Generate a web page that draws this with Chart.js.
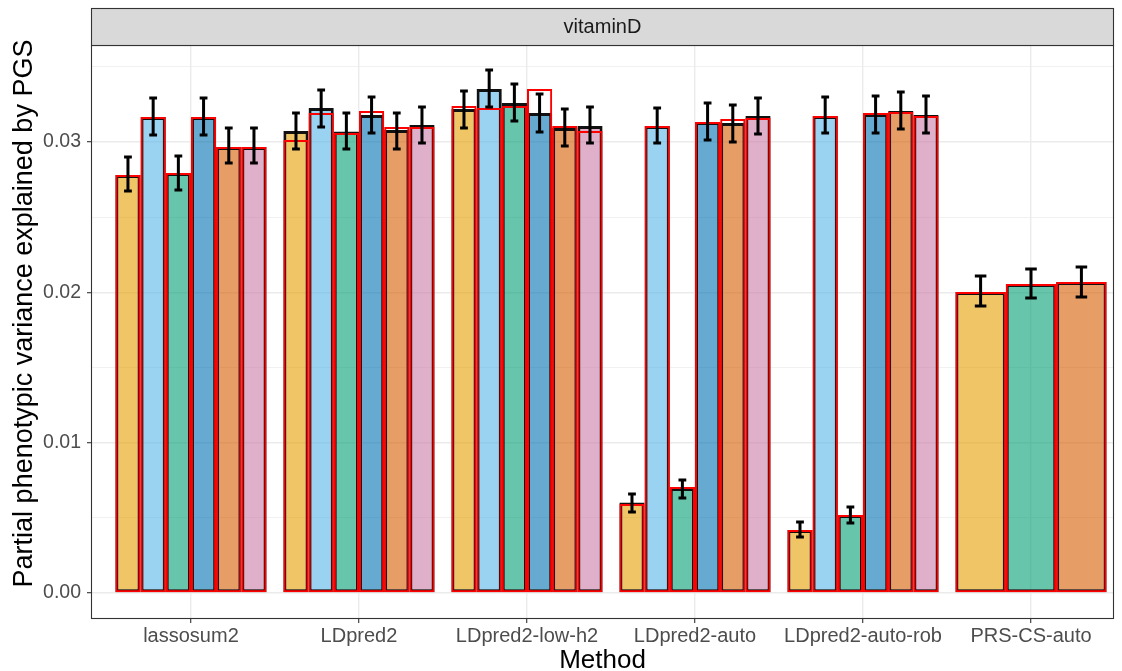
<!DOCTYPE html>
<html><head><meta charset="utf-8">
<script src="https://cdn.jsdelivr.net/npm/chart.js@4.4.1/dist/chart.umd.min.js"></script>
<style>html,body{margin:0;padding:0;background:#fff}#wrap{width:1122px;height:671px;position:relative}</style>
</head><body><div id="wrap"><canvas id="c" width="1122" height="671"></canvas></div>
<script>
// ---- data ----
const methods = ['lassosum2','LDpred2','LDpred2-low-h2','LDpred2-auto','LDpred2-auto-rob','PRS-CS-auto'];
const stripLabel = 'vitaminD';
const xTitle = 'Method';
const yTitle = 'Partial phenotypic variance explained by PGS';
const seriesColors = ['rgba(230,159,0,0.6)','rgba(86,180,233,0.6)','rgba(0,158,115,0.6)','rgba(0,114,178,0.6)','rgba(213,94,0,0.6)','rgba(204,121,167,0.6)'];

// values of the filled (black outlined) bars, one array per series
const fill1 = [0.02781, 0.03074, 0.03220, 0.00602, 0.00419, 0.02003];
const fill2 = [0.03167, 0.03227, 0.03353, 0.03107, 0.03174, null];
const fill3 = [0.02794, 0.03070, 0.03260, 0.00699, 0.00519, 0.02056];
const fill4 = [0.03167, 0.03180, 0.03194, 0.03134, 0.03187, null];
const fill5 = [0.02967, 0.03080, 0.03094, 0.03127, 0.03207, 0.02069];
const fill6 = [0.02967, 0.03114, 0.03107, 0.03174, 0.03180, null];

// values of the red outlined bars
const red1 = [0.02781, 0.03014, 0.03240, 0.00592, 0.00419, 0.02003];
const red2 = [0.03167, 0.03194, 0.03227, 0.03107, 0.03174, null];
const red3 = [0.02794, 0.03060, 0.03240, 0.00705, 0.00519, 0.02056];
const red4 = [0.03167, 0.03207, 0.03353, 0.03134, 0.03194, null];
const red5 = [0.02967, 0.03100, 0.03107, 0.03154, 0.03200, 0.02069];
const red6 = [0.02967, 0.03100, 0.03074, 0.03160, 0.03174, null];

// error bar bounds
const lo1 = [0.02675, 0.02954, 0.03094, 0.00539, 0.00373, 0.01910];
const hi1 = [0.02901, 0.03194, 0.03340, 0.00659, 0.00472, 0.02109];
const lo2 = [0.03047, 0.03100, 0.03234, 0.02994, 0.03060, null];
const hi2 = [0.03293, 0.03347, 0.03480, 0.03227, 0.03300, null];
const lo3 = [0.02681, 0.02954, 0.03140, 0.00632, 0.00466, 0.01963];
const hi3 = [0.02907, 0.03194, 0.03387, 0.00752, 0.00572, 0.02156];
const lo4 = [0.03047, 0.03060, 0.03067, 0.03014, 0.03060, null];
const hi4 = [0.03293, 0.03300, 0.03320, 0.03260, 0.03307, null];
const lo5 = [0.02861, 0.02954, 0.02974, 0.03001, 0.03087, 0.01969];
const hi5 = [0.03094, 0.03194, 0.03220, 0.03247, 0.03333, 0.02169];
const lo6 = [0.02861, 0.02994, 0.02994, 0.03054, 0.03060, null];
const hi6 = [0.03094, 0.03234, 0.03234, 0.03293, 0.03307, null];

const yTickValues = [0, 0.005, 0.01, 0.015, 0.02, 0.025, 0.03, 0.035];
const yTickLabels = ['0.00', '', '0.01', '', '0.02', '', '0.03', ''];

// ---- build ----
const fills = [fill1, fill2, fill3, fill4, fill5, fill6];
const reds = [red1, red2, red3, red4, red5, red6];
const los = [lo1, lo2, lo3, lo4, lo5, lo6];
const his = [hi1, hi2, hi3, hi4, hi5, hi6];
const toPts = arr => arr.map((v, i) => ({x: i, y: v}));
const FONT = "'Liberation Sans', Arial, sans-serif";

const datasets = [];
reds.forEach((arr, k) => datasets.push({
  data: toPts(arr), stack: 's' + k, order: 0,
  backgroundColor: 'rgba(0,0,0,0)', borderColor: '#FF0000', borderWidth: 2,
  borderSkipped: false, skipNull: true, categoryPercentage: 0.9, barPercentage: 1
}));
fills.forEach((arr, k) => datasets.push({
  data: toPts(arr), stack: 's' + k, order: 1,
  backgroundColor: seriesColors[k], borderColor: '#111', borderWidth: 3,
  borderSkipped: false, skipNull: true, categoryPercentage: 0.9, barPercentage: 1,
  errLo: los[k], errHi: his[k]
}));

const isMajor = v => yTickValues.indexOf(v) % 2 === 0;

const panelPlugin = {
  id: 'panel',
  beforeDraw(chart) {
    const c = chart.ctx; c.save(); c.fillStyle = '#fff'; c.fillRect(0, 0, chart.width, chart.height); c.restore();
  },
  afterDatasetsDraw(chart) {
    const c = chart.ctx, ys = chart.scales.y;
    c.save();
    c.strokeStyle = '#000'; c.lineWidth = 3; c.lineCap = 'butt';
    chart.data.datasets.forEach((ds, di) => {
      if (!ds.errLo) return;
      const meta = chart.getDatasetMeta(di);
      meta.data.forEach((el, i) => {
        const lo = ds.errLo[i], hi = ds.errHi[i];
        if (lo == null || hi == null) return;
        const x = el.x, cap = 4 + 0.15 * el.width;
        const yl = ys.getPixelForValue(lo), yh = ys.getPixelForValue(hi);
        c.beginPath();
        c.moveTo(x, yl); c.lineTo(x, yh);
        c.moveTo(x - cap / 2, yl); c.lineTo(x + cap / 2, yl);
        c.moveTo(x - cap / 2, yh); c.lineTo(x + cap / 2, yh);
        c.stroke();
      });
    });
    c.restore();
  },
  afterDraw(chart) {
    const c = chart.ctx, a = chart.chartArea;
    c.save();
    c.strokeStyle = '#333'; c.lineWidth = 1.1;
    c.strokeRect(a.left + 0.5, a.top + 0.5, a.right - a.left - 1, a.bottom - a.top - 1);
    const st = 8;
    c.fillStyle = '#D9D9D9';
    c.fillRect(a.left, st, a.right - a.left, a.top - st);
    c.strokeRect(a.left + 0.5, st + 0.5, a.right - a.left - 1, a.top - st);
    c.fillStyle = '#1A1A1A'; c.font = '20px ' + FONT; c.textAlign = 'center'; c.textBaseline = 'middle';
    c.fillText(stripLabel, (a.left + a.right) / 2, (st + a.top) / 2 + 1);
    // axis titles
    c.fillStyle = '#000'; c.font = '26px ' + FONT;
    c.fillText(xTitle, (a.left + a.right) / 2, 661);
    c.font = '27px ' + FONT;
    c.translate(25, (st + a.bottom) / 2);
    c.rotate(-Math.PI / 2);
    c.fillText(yTitle, 0, 0);
    c.restore();
  }
};

new Chart(document.getElementById('c'), {
  type: 'bar',
  data: { datasets },
  options: {
    responsive: false, animation: false, devicePixelRatio: 1,
    layout: { padding: { top: 45, right: 8, left: 0, bottom: 0 } },
    plugins: { legend: { display: false }, tooltip: { enabled: false } },
    scales: {
      x: {
        type: 'linear', min: -0.595, max: 5.494, offset: false, stacked: true, position: 'bottom',
        afterBuildTicks: s => { s.ticks = methods.map((m, i) => ({value: i})); },
        ticks: { callback: v => methods[v], color: '#4D4D4D', font: {family: FONT, size: 20}, padding: 1, maxRotation: 0, autoSkip: false },
        grid: { color: '#EBEBEB', lineWidth: 1.4, tickLength: 4, tickColor: '#333', tickWidth: 1.1, drawTicks: true, offset: false },
        border: { display: false },
        title: { display: false },
        afterFit: s => { s.height = 52; }
      },
      y: {
        min: -0.00173, max: 0.03646, stacked: false,
        afterBuildTicks: s => { s.ticks = yTickValues.map(v => ({value: v})); },
        ticks: { callback: (v, i) => yTickLabels[i], color: '#4D4D4D', font: {family: FONT, size: 19.5}, padding: 6 },
        grid: {
          color: '#EBEBEB',
          lineWidth: ctx => isMajor(ctx.tick && ctx.tick.value) ? 1.4 : 0.7,
          tickLength: 4,
          tickColor: ctx => isMajor(ctx.tick && ctx.tick.value) ? '#333' : 'rgba(0,0,0,0)',
          tickWidth: 1.1
        },
        border: { display: false },
        title: { display: false },
        afterFit: s => { s.width = 91; }
      }
    }
  },
  plugins: [panelPlugin]
});
</script>
</body></html>
